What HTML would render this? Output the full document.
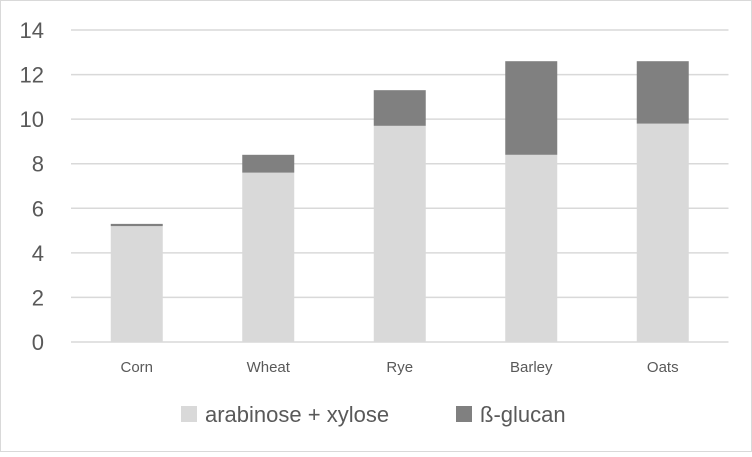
<!DOCTYPE html>
<html><head><meta charset="utf-8"><style>
body{margin:0;background:#fff}
svg text{font-family:"Liberation Sans",sans-serif}
</style></head><body>
<svg width="752" height="452">
<rect x="0.5" y="0.5" width="751" height="451" fill="#fff" stroke="#d9d9d9"/>
<g id="grid"></g><g id="bars"></g><g id="axis"></g>
<g>
<rect x="181" y="406" width="16" height="16" fill="#d9d9d9"/>
<text x="205" y="422" font-size="22" fill="#595959">arabinose + xylose</text>
<rect x="456" y="406" width="16" height="16" fill="#808080"/>
<text x="480" y="422" font-size="22" fill="#595959">ß-glucan</text>
</g>
</svg>
<script>
const categories=["Corn","Wheat","Rye","Barley","Oats"];
const arabinoseXylose=[5.2,7.6,9.7,8.4,9.8];
const betaGlucan=[0.1,0.8,1.6,4.2,2.8];
const yTicks=[0,2,4,6,8,10,12,14];
const NS="http://www.w3.org/2000/svg";
const left=71,right=728.5,y0=342,yMax=14,yTop=30;
const band=(right-left)/categories.length,barW=52;
function y(v){return y0-(v/yMax)*(y0-yTop);}
function xc(i){return left+band*(i+0.5);}
function mk(t,a,p){const e=document.createElementNS(NS,t);for(const k in a)e.setAttribute(k,a[k]);p.appendChild(e);return e;}
const g=document.getElementById('grid'),b=document.getElementById('bars'),ax=document.getElementById('axis');
yTicks.forEach(t=>{
const l=mk('line',{x1:left,x2:right,y1:y(t),y2:y(t),stroke:'#d9d9d9','stroke-width':1.5},g);


const tx=mk('text',{x:44,y:y(t)+8,'font-size':22,fill:'#595959','text-anchor':'end'},ax);
tx.textContent=t;


});
categories.forEach((c,i)=>{
const x=xc(i)-barW/2;
const r1=mk('rect',{x:x,y:y(arabinoseXylose[i]),width:barW,height:y0-y(arabinoseXylose[i]),fill:'#d9d9d9'},b);


const top=arabinoseXylose[i]+betaGlucan[i];
const r2=mk('rect',{x:x,y:y(top),width:barW,height:y(arabinoseXylose[i])-y(top),fill:'#808080'},b);


const tx=mk('text',{x:xc(i),y:372,'font-size':15,fill:'#595959','text-anchor':'middle'},ax);
tx.textContent=c;


});
</script>
</body></html>
